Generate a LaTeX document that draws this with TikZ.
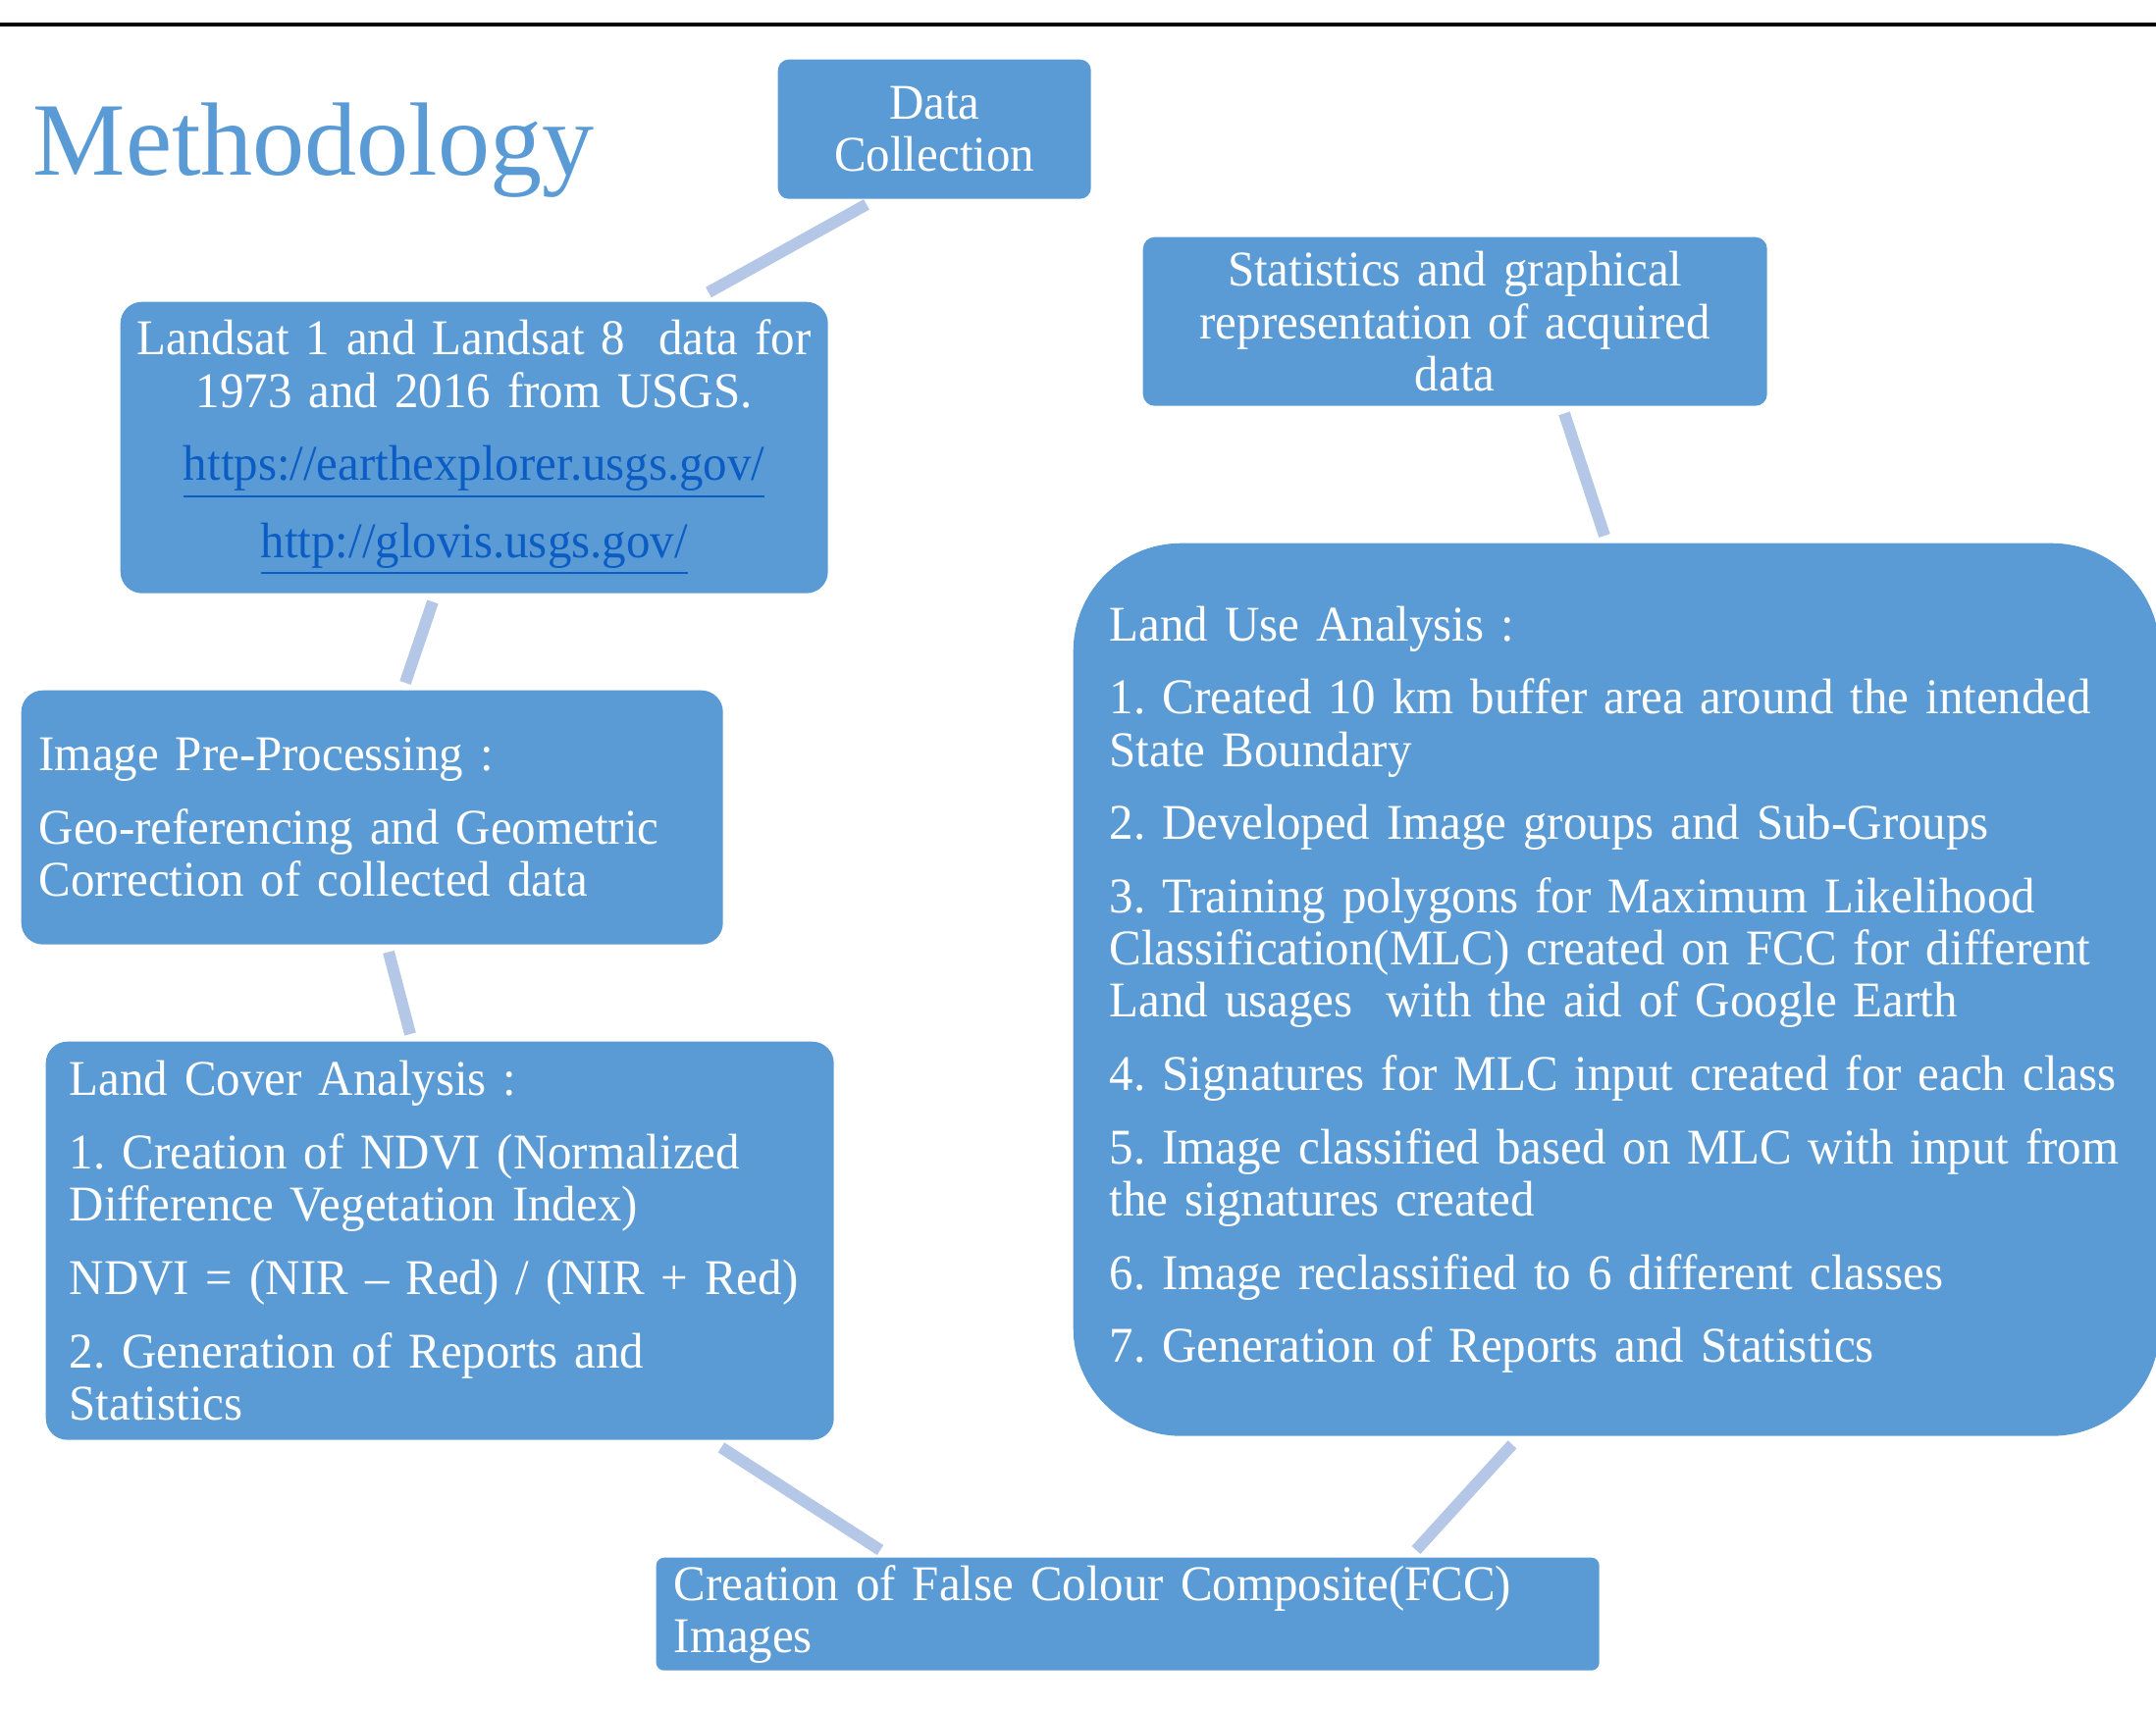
\documentclass[tikz,border=0pt]{standalone}
\usepackage{fontspec}
\setmainfont[FakeStretch=0.96]{Liberation Serif}
\newfontfamily\titlefont{Liberation Serif}
\usetikzlibrary{calc}
\definecolor{boxc}{HTML}{5B9BD5}
\definecolor{linec}{HTML}{B4C7E7}
\definecolor{linkc}{HTML}{0B5DC4}
\newcommand{\lnk}[1]{{\color{linkc}\underline{#1}}}
\newcommand{\pg}{\\[6.1pt]}
\frenchspacing
\hyphenpenalty=10000
\tikzset{
  box/.style={fill=boxc, draw=none, text=white, anchor=north west, inner ysep=0pt,
    font=\fontsize{14.5}{15.15}\selectfont},
  link/.style={draw=linec, line width=3.4pt},
}
\begin{document}
\begin{tikzpicture}[x=0.1mm, y=-0.1mm]
\useasboundingbox (0,0) rectangle (2197,1742);
\draw[line width=1pt] (0,25) -- (2197,25);
\node[anchor=base west, inner sep=0pt, text=boxc, font=\titlefont\fontsize{30.2}{32}\selectfont] (title) at (33,179) {Methodology};

\node[box, rounded corners=1.1mm, minimum width=31.9mm, minimum height=14.2mm, text width=31.9mm, inner xsep=0pt, align=center] (dc) at (792,60) {Data\\Collection};

\node[box, rounded corners=2.2mm, minimum width=72.1mm, minimum height=29.7mm, text width=72.1mm, inner xsep=0pt, align=center] (ls) at (122,307)
 {Landsat 1 and Landsat 8~~data for\\1973 and 2016 from USGS.\pg\lnk{https://earthexplorer.usgs.gov/}\pg\lnk{http://glovis.usgs.gov/}};

\node[box, rounded corners=2.2mm, minimum width=71.5mm, minimum height=25.9mm, inner xsep=1.8mm, text width=67.9mm, align=left] (ip) at (21,703)
 {Image Pre-Processing :\pg Geo-referencing and Geometric\\Correction of collected data};

\node[box, rounded corners=2.2mm, minimum width=80.3mm, minimum height=40.6mm, inner xsep=2.4mm, text width=75.5mm, align=left] (lc) at (46,1061)
 {Land Cover Analysis :\pg 1. Creation of NDVI (Normalized\\Difference Vegetation Index)\pg NDVI = (NIR \textendash{} Red) / (NIR + Red)\pg 2. Generation of Reports and\\Statistics};

\node[box, rounded corners=0.8mm, minimum width=96.1mm, minimum height=11.5mm, inner xsep=1.8mm, text width=92.5mm, align=left] (fcc) at (668,1587)
 {Creation of False Colour Composite(FCC)\\Images};

\node[box, rounded corners=1.2mm, minimum width=63.6mm, minimum height=17.2mm, text width=63.6mm, inner xsep=0pt, align=center] (st) at (1164,241)
 {Statistics and graphical\\representation of acquired\\data};

\node[box, rounded corners=11mm, minimum width=110.7mm, minimum height=91mm, inner xsep=3.7mm, text width=103.3mm, align=left] (lu) at (1093,553)
 {Land Use Analysis :\pg 1. Created 10 km buffer area around the intended\\State Boundary\pg 2. Developed Image groups and Sub-Groups\pg 3. Training polygons for Maximum Likelihood\\Classification(MLC) created on FCC for different\\Land usages~~with the aid of Google Earth\pg 4. Signatures for MLC input created for each class\pg 5. Image classified based on MLC with input from\\the signatures created\pg 6. Image reclassified to 6 different classes\pg 7. Generation of Reports and Statistics};

\coordinate (c1a) at ($(dc.south west)+(91,5)$);
\coordinate (c1b) at ($(ls.north west)+(600,-9)$);
\coordinate (c2a) at ($(ls.south west)+(319,8)$);
\coordinate (c2b) at ($(ip.north west)+(392,-7)$);
\coordinate (c3a) at ($(ip.south west)+(375,7)$);
\coordinate (c3b) at ($(lc.north west)+(372,-7)$);
\coordinate (c4a) at ($(lc.south west)+(689,7)$);
\coordinate (c4b) at ($(fcc.north west)+(229,-7)$);
\coordinate (c5a) at ($(fcc.north west)+(775,-7)$);
\coordinate (c5b) at ($(lu.south west)+(448,8)$);
\coordinate (c6a) at ($(lu.north west)+(542,-7)$);
\coordinate (c6b) at ($(st.south west)+(430,7)$);
\draw[link] (c1a) -- (c1b);
\draw[link] (c2a) -- (c2b);
\draw[link] (c3a) -- (c3b);
\draw[link] (c4a) -- (c4b);
\draw[link] (c5a) -- (c5b);
\draw[link] (c6a) -- (c6b);
\end{tikzpicture}
\end{document}
